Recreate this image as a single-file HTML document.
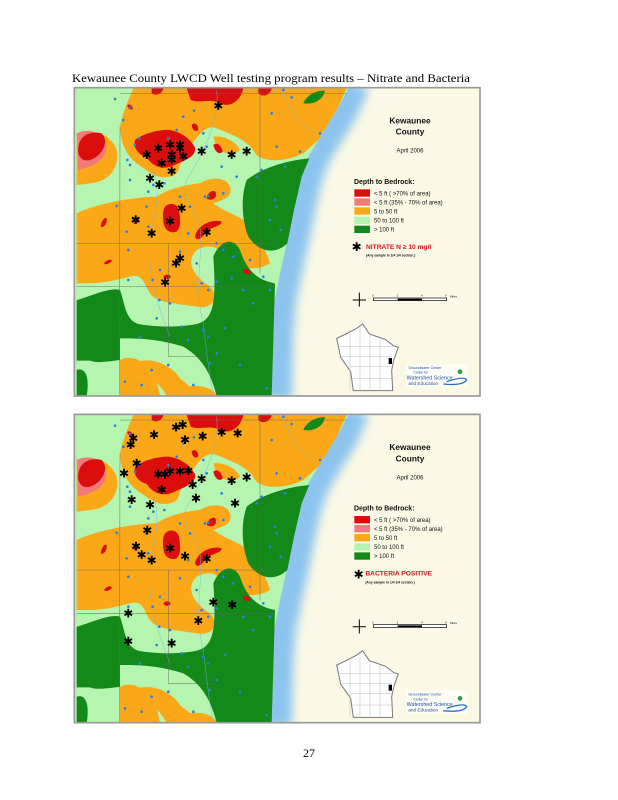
<!DOCTYPE html>
<html><head><meta charset="utf-8"><style>
html,body{margin:0;padding:0;background:#fff;}
svg{display:block;}
</style></head><body>
<svg width="618" height="800" viewBox="0 0 618 800" xmlns="http://www.w3.org/2000/svg">
<defs>
<filter id="bl" x="-50%" y="-50%" width="200%" height="200%"><feGaussianBlur stdDeviation="14"/></filter>
<clipPath id="cp"><rect x="15" y="55" width="1213" height="923"/></clipPath>
<g id="base">
 <rect x="15" y="55" width="1213" height="923" fill="#fbf9e6"/>
 <g clip-path="url(#cp)">
 <path d="M855,40 L820,120 L765,210 L735,260 L710,330 L690,420 L670,520 L650,610 L632,700 L625,800 L620,990" fill="none" stroke="#8cc4ee" stroke-width="90" filter="url(#bl)"/>
 <path d="M15,55 L835,55 L800,120 L745,210 L715,260 L690,330 L670,420 L650,520 L630,610 L612,700 L605,800 L600,978 L15,978 Z" fill="#b5f5b0"/>
 <!-- orange -->
 <path d="M190,55 L830,55 L800,120 L745,210 L700,250 C650,275 580,280 555,250 C540,215 490,195 440,175 C400,160 380,210 350,240 C320,280 340,310 300,320 C260,330 230,300 200,280 C160,250 150,200 150,170 C160,120 180,80 190,55 Z" fill="#fba818"/>
 <path d="M20,195 C60,175 120,185 140,240 C150,290 120,335 60,340 L20,345 Z" fill="#fba818"/>
 <path d="M20,430 C80,400 200,380 260,380 C300,350 400,330 470,340 C490,360 470,390 430,400 C470,430 520,440 545,470 C560,500 590,540 600,580 C560,605 500,600 470,560 C440,530 420,520 380,540 C350,570 360,610 420,650 C450,680 430,720 380,710 C320,700 260,700 240,670 C220,640 220,610 180,620 C140,630 100,640 60,640 L20,640 Z" fill="#fba818"/>
 <path d="M390,340 C420,320 470,320 480,350 C490,380 460,395 420,395 C395,392 380,365 390,340 Z" fill="#fba818"/>
 <path d="M150,870 C190,850 240,880 260,930 L270,978 L150,978 Z" fill="#fba818"/>
 <path d="M205,875 C250,860 310,890 330,925 C360,950 380,965 385,978 L290,978 C270,940 230,910 205,875 Z" fill="#fba818"/>
 <path d="M330,955 C380,940 430,950 440,978 L330,978 Z" fill="#fba818"/>
 <path d="M430,200 C460,195 500,215 510,240 C490,260 460,250 440,235 Z" fill="#fba818"/>
 <!-- dark green -->
 <path d="M530,330 C580,290 660,270 718,265 L695,320 L672,420 L652,520 C610,560 560,540 535,500 C515,450 512,380 530,330 Z" fill="#13891a"/>
 <path d="M430,560 C450,510 490,500 510,540 C530,600 560,630 615,640 L605,978 L440,978 C420,900 390,860 340,830 C260,805 200,805 150,805 L150,870 C110,875 80,880 60,872 L20,872 L20,690 C60,680 120,650 150,660 C165,700 165,750 205,762 C260,772 330,772 380,762 C430,750 440,700 430,560 Z" fill="#13891a"/>
 <path d="M700,100 C710,75 740,60 765,62 C760,90 730,105 700,100 Z" fill="#13891a"/>
 <path d="M20,900 C45,890 60,920 50,978 L20,978 Z" fill="#13891a"/>
 <!-- pink/red -->
 <path d="M20,190 C50,175 100,180 110,230 C110,270 70,290 25,300 Z" fill="#f37a7a"/>
 <path d="M25,250 C20,205 50,180 95,190 C120,215 95,260 60,270 C40,275 30,265 25,250 Z" fill="#dc0d0d"/>
 <path d="M195,210 C220,190 270,178 300,180 C340,188 362,210 375,232 C380,262 340,272 310,287 C280,300 250,292 230,262 C200,252 190,232 195,210 Z" fill="#dc0d0d"/>
 <path d="M350,55 L520,55 C512,92 482,112 452,102 C422,82 392,102 362,90 Z" fill="#dc0d0d"/>
 <path d="M245,55 L280,55 C275,75 255,78 245,70 Z" fill="#dc0d0d"/>
 <path d="M565,55 L605,55 C600,78 575,82 565,70 Z" fill="#dc0d0d"/>
 <path d="M285,410 C300,395 325,400 328,425 C330,450 335,470 320,485 C300,492 282,480 280,455 C278,440 278,420 285,410 Z" fill="#dc0d0d"/>
 <path d="M375,500 C380,470 420,445 455,455 C455,470 420,470 405,490 C395,505 380,515 375,500 Z" fill="#dc0d0d"/>
 <path d="M410,385 C415,360 440,355 438,375 C437,390 420,392 410,385 Z" fill="#dc0d0d"/>
 <path d="M92,470 C95,450 105,440 110,445 C112,462 100,475 92,470 Z" fill="#dc0d0d"/>
 <path d="M190,455 C190,440 205,438 206,450 C205,462 192,466 190,455 Z" fill="#dc0d0d"/>
 <path d="M102,580 C108,570 122,566 126,572 C120,582 108,586 102,580 Z" fill="#dc0d0d"/>
 <path d="M280,620 C285,612 300,612 302,620 C298,630 284,630 280,620 Z" fill="#dc0d0d"/>
 <path d="M518,600 C525,592 540,598 542,610 C532,616 520,612 518,600 Z" fill="#dc0d0d"/>
 <path d="M430,225 C440,215 455,225 458,245 C450,255 435,248 430,225 Z" fill="#dc0d0d"/>
 <path d="M365,165 C372,155 385,162 385,178 C380,188 366,182 365,165 Z" fill="#dc0d0d"/>
 <path d="M172,105 C180,100 190,110 188,118 C180,120 172,115 172,105 Z" fill="#dc0d0d"/>
 <!-- roads -->
 <g stroke="#666" stroke-width="2" fill="none" opacity="0.7">
  <path d="M150,170 L148,975"/><path d="M20,520 L620,520"/><path d="M150,70 L830,70"/><path d="M570,60 L570,610"/><path d="M295,520 L295,860 L440,860"/><path d="M20,650 L610,650"/>
 </g>
 <g stroke="#6cb6e0" stroke-width="1.5" fill="none" opacity="0.8">
  <path d="M440,60 C450,150 400,250 350,330 C330,380 380,420 390,470 C400,560 370,650 400,760 C410,850 420,930 430,975"/>
  <path d="M640,60 C660,120 690,170 740,190"/><path d="M250,300 C270,350 260,420 240,500 C230,600 260,700 300,800"/>
 </g>
 </g>
 <!-- dots -->
 <g fill="#2a7fe6">
  <circle cx="135" cy="87" r="4"/><circle cx="180" cy="112" r="4"/><circle cx="160" cy="150" r="4"/><circle cx="172" cy="270" r="4"/><circle cx="180" cy="285" r="4"/><circle cx="195" cy="225" r="4"/><circle cx="208" cy="205" r="4"/><circle cx="320" cy="180" r="4"/><circle cx="295" cy="205" r="4"/><circle cx="340" cy="140" r="4"/><circle cx="372" cy="122" r="4"/><circle cx="400" cy="190" r="4"/><circle cx="605" cy="130" r="4"/><circle cx="665" cy="82" r="4"/><circle cx="640" cy="60" r="4"/><circle cx="750" cy="190" r="4"/><circle cx="620" cy="230" r="4"/><circle cx="690" cy="245" r="4"/><circle cx="410" cy="230" r="4"/><circle cx="455" cy="290" r="4"/><circle cx="500" cy="320" r="4"/><circle cx="560" cy="320" r="4"/><circle cx="575" cy="300" r="4"/><circle cx="645" cy="290" r="4"/><circle cx="620" cy="410" r="4"/><circle cx="615" cy="390" r="4"/><circle cx="600" cy="450" r="4"/><circle cx="405" cy="380" r="4"/><circle cx="415" cy="378" r="4"/><circle cx="460" cy="370" r="4"/><circle cx="330" cy="380" r="4"/><circle cx="360" cy="410" r="4"/><circle cx="235" cy="365" r="4"/><circle cx="250" cy="345" r="4"/><circle cx="283" cy="340" r="4"/><circle cx="180" cy="330" r="4"/><circle cx="140" cy="408" r="4"/><circle cx="230" cy="410" r="4"/><circle cx="170" cy="485" r="4"/><circle cx="235" cy="470" r="4"/><circle cx="355" cy="490" r="4"/><circle cx="440" cy="520" r="4"/><circle cx="460" cy="540" r="4"/><circle cx="490" cy="560" r="4"/><circle cx="540" cy="570" r="4"/><circle cx="175" cy="540" r="4"/><circle cx="270" cy="600" r="4"/><circle cx="248" cy="630" r="4"/><circle cx="330" cy="545" r="4"/><circle cx="380" cy="580" r="4"/><circle cx="175" cy="630" r="4"/><circle cx="395" cy="640" r="4"/><circle cx="440" cy="635" r="4"/><circle cx="415" cy="660" r="4"/><circle cx="485" cy="625" r="4"/><circle cx="520" cy="660" r="4"/><circle cx="600" cy="660" r="4"/><circle cx="550" cy="700" r="4"/><circle cx="268" cy="690" r="4"/><circle cx="300" cy="700" r="4"/><circle cx="260" cy="745" r="4"/><circle cx="335" cy="770" r="4"/><circle cx="400" cy="780" r="4"/><circle cx="465" cy="775" r="4"/><circle cx="415" cy="800" r="4"/><circle cx="355" cy="810" r="4"/><circle cx="210" cy="800" r="4"/><circle cx="440" cy="850" r="4"/><circle cx="510" cy="885" r="4"/><circle cx="420" cy="880" r="4"/><circle cx="295" cy="885" r="4"/><circle cx="245" cy="900" r="4"/><circle cx="165" cy="935" r="4"/><circle cx="370" cy="945" r="4"/><circle cx="590" cy="955" r="4"/><circle cx="215" cy="945" r="4"/><circle cx="632" cy="480" r="4"/><circle cx="580" cy="620" r="4"/>
 </g>
 <rect x="13" y="53" width="1217" height="925" fill="none" stroke="#999" stroke-width="5"/>
 <rect x="853" y="358" width="47" height="22" fill="#dc0d0d"/>
 <rect x="853" y="385" width="47" height="22" fill="#f37a7a"/>
 <rect x="853" y="412" width="47" height="22" fill="#fba818"/>
 <rect x="853" y="440" width="47" height="22" fill="#b5f5b0"/>
 <rect x="853" y="467" width="47" height="22" fill="#13891a"/>
 <rect x="910" y="684" width="220" height="8" fill="#fff" stroke="#000" stroke-width="2"/>
 <rect x="983" y="686" width="73" height="5" fill="#000"/>
 <path d="M868,668 L868,710 M848,690 L888,690" stroke="#000" stroke-width="3"/>
 <path d="M860,775 L878,762 L898,792 L945,808 L972,828 L985,832 L972,868 L965,900 L968,962 L850,962 L842,905 L812,862 L800,805 L828,792 Z" fill="#fff" stroke="#777" stroke-width="3"/>
 <g stroke="#bbb" stroke-width="1.5"><path d="M810,830 L970,830 M815,860 L965,860 M840,890 L965,890 M845,925 L965,925 M840,790 L840,960 M870,770 L870,962 M900,795 L900,962 M930,805 L930,962"/></g>
 <rect x="956" y="864" width="10" height="18" fill="#000"/>
 <rect x="1008" y="882" width="185" height="70" fill="#fff" opacity="0.6"/>
 <path d="M1130,935 C1160,925 1185,920 1190,930 C1180,945 1150,945 1120,942" fill="none" stroke="#2a6fd0" stroke-width="4"/>
 <circle cx="1170" cy="905" r="7" fill="#2aa040"/>
</g>
</defs>

<text x="72" y="82" font-family="Liberation Serif, serif" font-size="11.5" textLength="398" lengthAdjust="spacingAndGlyphs" fill="#000">Kewaunee County LWCD Well testing program results – Nitrate and Bacteria</text>

<g transform="translate(70,70) scale(0.33333)">
 <use href="#base"/>
 <g fill="#000" font-family="Liberation Sans, sans-serif" font-size="36" text-anchor="middle">
  <text x="445" y="120">✱</text><text x="265" y="247">✱</text><text x="230" y="267">✱</text><text x="300" y="237">✱</text><text x="330" y="237">✱</text><text x="330" y="247">✱</text><text x="305" y="267">✱</text><text x="305" y="282">✱</text><text x="275" y="292">✱</text><text x="340" y="272">✱</text><text x="395" y="257">✱</text><text x="485" y="267">✱</text><text x="530" y="257">✱</text><text x="305" y="317">✱</text><text x="240" y="337">✱</text><text x="268" y="357">✱</text><text x="335" y="427">✱</text><text x="197" y="462">✱</text><text x="300" y="467">✱</text><text x="245" y="502">✱</text><text x="410" y="500">✱</text><text x="330" y="577">✱</text><text x="318" y="592">✱</text><text x="285" y="650">✱</text>
 </g>
 <g font-family="Liberation Sans, sans-serif" fill="#111">
  <text x="1020" y="160" font-size="25" font-weight="bold" text-anchor="middle">Kewaunee</text>
  <text x="1020" y="194" font-size="25" font-weight="bold" text-anchor="middle">County</text>
  <text x="1020" y="248" font-size="18" text-anchor="middle">April 2006</text>
  <text x="852" y="342" font-size="21" font-weight="bold">Depth to Bedrock:</text>
  <text x="912" y="376" font-size="18">&lt; 5 ft ( &gt;70% of area)</text>
  <text x="912" y="403" font-size="18">&lt; 5 ft (35% - 70% of area)</text>
  <text x="912" y="430" font-size="18">5 to 50 ft</text>
  <text x="912" y="457" font-size="18">50 to 100 ft</text>
  <text x="912" y="484" font-size="18">&gt; 100 ft</text>
  <text x="860" y="543" font-size="36" text-anchor="middle" fill="#000">✱</text>
  <text x="888" y="537" font-size="20" font-weight="bold" fill="#d8141e">NITRATE N ≥ 10 mg/l</text>
  <text x="888" y="560" font-size="10" font-weight="bold">(Any sample in 1/4 1/4 section.)</text>
  <text x="906" y="680" font-size="9">0</text><text x="980" y="680" font-size="9">2</text><text x="1053" y="680" font-size="9">4</text><text x="1125" y="680" font-size="9">6</text><text x="1140" y="682" font-size="9">Miles</text>
  <text x="1015" y="897" font-size="11" fill="#1b4fa8">Groundwater Center</text>
  <text x="1030" y="911" font-size="10" fill="#1b4fa8">Center for</text>
  <text x="1010" y="928" font-size="16" fill="#1b4fa8">Watershed Science</text>
  <text x="1015" y="945" font-size="14" fill="#1b4fa8">and Education</text>
 </g>
</g>

<g transform="translate(70,396.7) scale(0.33333)">
 <use href="#base"/>
 <g font-family="Liberation Sans, sans-serif" fill="#111">
  <text x="1020" y="160" font-size="25" font-weight="bold" text-anchor="middle">Kewaunee</text>
  <text x="1020" y="194" font-size="25" font-weight="bold" text-anchor="middle">County</text>
  <text x="1020" y="248" font-size="18" text-anchor="middle">April 2006</text>
  <text x="852" y="342" font-size="21" font-weight="bold">Depth to Bedrock:</text>
  <text x="912" y="376" font-size="18">&lt; 5 ft ( &gt;70% of area)</text>
  <text x="912" y="403" font-size="18">&lt; 5 ft (35% - 70% of area)</text>
  <text x="912" y="430" font-size="18">5 to 50 ft</text>
  <text x="912" y="457" font-size="18">50 to 100 ft</text>
  <text x="912" y="484" font-size="18">&gt; 100 ft</text>
  <text x="866" y="545" font-size="36" text-anchor="middle" fill="#000">✱</text>
  <text x="886" y="537" font-size="20" font-weight="bold" fill="#d8141e">BACTERIA POSITIVE</text>
  <text x="886" y="560" font-size="10" font-weight="bold">(Any sample in 1/4 1/4 section.)</text>
  <text x="906" y="680" font-size="9">0</text><text x="980" y="680" font-size="9">2</text><text x="1053" y="680" font-size="9">4</text><text x="1125" y="680" font-size="9">6</text><text x="1140" y="682" font-size="9">Miles</text>
  <text x="1015" y="897" font-size="11" fill="#1b4fa8">Groundwater Center</text>
  <text x="1030" y="911" font-size="10" fill="#1b4fa8">Center for</text>
  <text x="1010" y="928" font-size="16" fill="#1b4fa8">Watershed Science</text>
  <text x="1015" y="945" font-size="14" fill="#1b4fa8">and Education</text>
 </g>
</g>
<g transform="translate(70,405) scale(0.33333)" fill="#000" font-family="Liberation Sans, sans-serif" font-size="36" text-anchor="middle">
 <text x="318" y="80">✱</text><text x="338" y="72">✱</text><text x="252" y="102">✱</text><text x="190" y="112">✱</text><text x="182" y="132">✱</text><text x="345" y="117">✱</text><text x="398" y="107">✱</text><text x="455" y="94">✱</text><text x="503" y="97">✱</text><text x="200" y="187">✱</text><text x="162" y="217">✱</text><text x="265" y="220">✱</text><text x="285" y="220">✱</text><text x="300" y="212">✱</text><text x="330" y="212">✱</text><text x="355" y="210">✱</text><text x="395" y="234">✱</text><text x="368" y="252">✱</text><text x="275" y="267">✱</text><text x="485" y="240">✱</text><text x="530" y="230">✱</text><text x="185" y="297">✱</text><text x="240" y="312">✱</text><text x="378" y="292">✱</text><text x="495" y="307">✱</text><text x="232" y="389">✱</text><text x="198" y="437">✱</text><text x="215" y="462">✱</text><text x="245" y="479">✱</text><text x="345" y="467">✱</text><text x="300" y="442">✱</text><text x="410" y="474">✱</text><text x="430" y="604">✱</text><text x="487" y="612">✱</text><text x="175" y="637">✱</text><text x="385" y="660">✱</text><text x="175" y="722">✱</text><text x="305" y="727">✱</text>
</g>

<text x="309" y="757" font-family="Liberation Serif, serif" font-size="12" text-anchor="middle" fill="#000">27</text>
</svg>
</body></html>
